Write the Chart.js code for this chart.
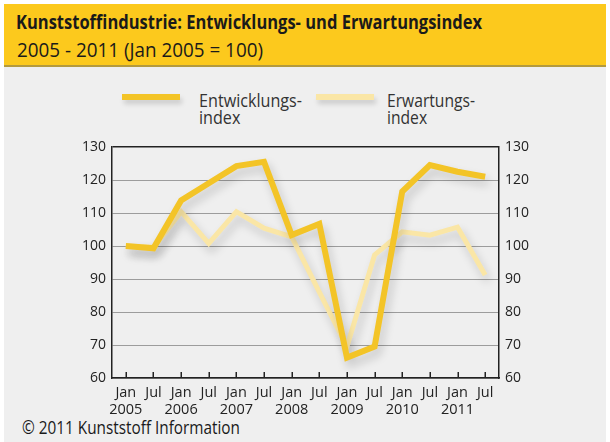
<!DOCTYPE html>
<html>
<head>
<meta charset="utf-8">
<script src="https://cdn.jsdelivr.net/npm/chart.js@4.4.1/dist/chart.umd.min.js"></script>
<style>
  html, body { margin: 0; padding: 0; background: #ffffff; width: 610px; height: 442px; overflow: hidden; font-family: 'Open Sans', sans-serif; color: #1e1e1e; }
  #header { position: absolute; left: 4px; top: 4px; width: 602px; height: 61px; background: #fcc91d; border-bottom: 2px solid #b39a3e; }
  #panel { position: absolute; left: 4px; top: 67px; width: 602px; height: 375px; background: #efefef; }
  .txt { position: absolute; white-space: nowrap; transform-origin: 0 0; }
  #title { left: 16px; top: 12px; font-size: 20px; line-height: 20px; font-weight: 700; color: #1a1a1a; }
  #subtitle { left: 17px; top: 38.5px; font-size: 20.5px; line-height: 20.5px; font-weight: 400; color: #1a1a1a; }
  .sw { position: absolute; height: 6px; width: 58px; top: 94px; box-shadow: 2px 4px 5px rgba(0,0,0,0.15); }
  .leg { font-size: 19px; line-height: 17.5px; color: #333; top: 91.6px; }
  #footer { left: 22px; top: 418px; font-size: 19px; line-height: 19px; color: #1a1a1a; }
  #c { position: absolute; left: 0; top: 0; }
</style>
</head>
<body>
<div id="header"></div>
<div id="panel"></div>
<div id="title" class="txt" data-w="466">Kunststoffindustrie: Entwicklungs- und Erwartungsindex</div>
<div id="subtitle" class="txt" data-w="246">2005 - 2011 (Jan 2005 = 100)</div>
<div class="sw" style="left:122px; background:#f3c427;"></div>
<div class="txt leg" style="left:199px;" data-w="103" data-first="1">Entwicklungs-<br>index</div>
<div class="sw" style="left:316px; background:#fae6a6;"></div>
<div class="txt leg" style="left:387px;" data-w="88" data-first="1">Erwartungs-<br>index</div>
<div id="footer" class="txt" data-w="218">© 2011 Kunststoff Information</div>
<canvas id="c" width="610" height="442"></canvas>
<script>
// ---- data ----
const months = ['Jan','Jul','Jan','Jul','Jan','Jul','Jan','Jul','Jan','Jul','Jan','Jul','Jan','Jul'];
const years  = ['2005','','2006','','2007','','2008','','2009','','2010','','2011',''];
const entwicklungsindex = [100, 99.3, 113.8, 119, 124.2, 125.5, 103.3, 106.7, 66.2, 69.5, 116.5, 124.5, 122.5, 121];
const erwartungsindex   = [100, 99.6, 110.4, 100.8, 110.4, 105.4, 102.8, 86, 69.5, 97.3, 104.3, 103.3, 105.7, 91.2];
const yTicks = [60, 70, 80, 90, 100, 110, 120, 130];

const labels = months.map((m, i) => years[i] ? [m, years[i]] : m);

// ---- fit html text widths ----
document.querySelectorAll('.txt[data-w]').forEach(el => {
  let w;
  if (el.dataset.first) {
    const r = document.createRange();
    r.setStart(el.firstChild, 0); r.setEnd(el.firstChild, el.firstChild.length);
    w = r.getBoundingClientRect().width;
  } else {
    w = el.getBoundingClientRect().width;
  }
  el.style.transform = 'scaleX(' + (parseFloat(el.dataset.w) / w) + ')';
});

Chart.defaults.font.family = "'Open Sans', sans-serif";
Chart.defaults.color = '#222';

const shadowPlugin = {
  id: 'shadow',
  beforeDatasetDraw(chart) {
    const ctx = chart.ctx;
    ctx.save();
    ctx.shadowColor = 'rgba(0,0,0,0.18)';
    ctx.shadowBlur = 10;
    ctx.shadowOffsetX = 3;
    ctx.shadowOffsetY = 6;
  },
  afterDatasetDraw(chart) { chart.ctx.restore(); }
};

const innerTicks = {
  id: 'innerTicks',
  beforeDatasetsDraw(chart) {
    const ctx = chart.ctx, xs = chart.scales.x, a = chart.chartArea;
    ctx.save();
    ctx.strokeStyle = '#222';
    ctx.lineWidth = 1.5;
    ctx.beginPath();
    for (let i = 0; i < xs.ticks.length; i++) {
      const px = Math.round(xs.getPixelForTick(i)) + 0.25;
      ctx.moveTo(px, a.bottom);
      ctx.lineTo(px, a.bottom - 6);
    }
    ctx.stroke();
    ctx.restore();
  }
};

new Chart(document.getElementById('c'), {
  type: 'line',
  data: {
    labels: labels,
    datasets: [
      { label: 'Entwicklungsindex', data: entwicklungsindex, borderColor: '#f3c427', borderWidth: 6, pointRadius: 0, tension: 0, yAxisID: 'y' },
      { label: 'Erwartungsindex', data: erwartungsindex, borderColor: '#fae6a6', borderWidth: 5, pointRadius: 0, tension: 0, yAxisID: 'y' }
    ]
  },
  options: {
    responsive: false,
    animation: false,
    devicePixelRatio: 1,
    layout: { padding: { left: 72, right: 71, top: 147, bottom: 20 } },
    plugins: { legend: { display: false }, tooltip: { enabled: false } },
    scales: {
      x: {
        offset: true,
        grid: { display: false, drawTicks: false, tickLength: 0 },
        border: { display: true, color: '#222', width: 1.5 },
        ticks: { font: { size: 14.5 }, padding: 6, maxRotation: 0, autoSkip: false, color: '#222' },
        afterFit(s) { s.height = 44; }
      },
      y: {
        position: 'left',
        min: 60, max: 130,
        afterBuildTicks(s) { s.ticks = yTicks.map(v => ({ value: v })); },
        grid: {
          drawTicks: false, tickLength: 0,
          color: c => c.tick && c.tick.value === 130 ? '#222' : '#9c9c9c',
          lineWidth: c => c.tick && c.tick.value === 130 ? 1.5 : 1
        },
        border: { display: true, color: '#222', width: 1.5 },
        ticks: { font: { size: 14 }, padding: 6, color: '#222' },
        afterFit(s) { s.width = 40; }
      },
      y2: {
        position: 'right',
        min: 60, max: 130,
        afterBuildTicks(s) { s.ticks = yTicks.map(v => ({ value: v })); },
        grid: { display: false, drawTicks: false, tickLength: 0 },
        border: { display: true, color: '#222', width: 1.5 },
        ticks: { font: { size: 14 }, padding: 6, color: '#222' },
        afterFit(s) { s.width = 40; }
      }
    }
  },
  plugins: [shadowPlugin, innerTicks]
});
</script>
</body>
</html>
